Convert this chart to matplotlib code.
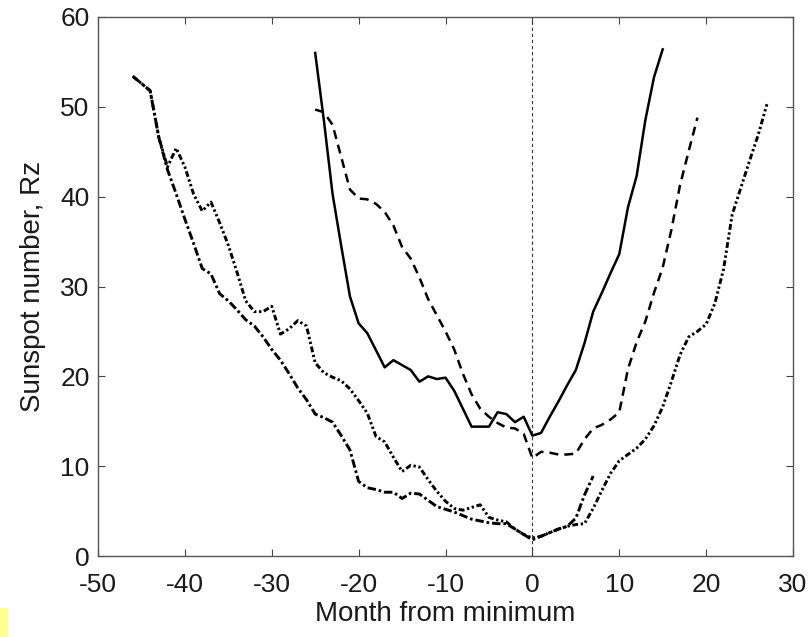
import matplotlib
matplotlib.use("Agg")
import matplotlib.pyplot as plt
import numpy as np
from matplotlib.patches import Rectangle

# ---- data ----
solid_x = list(range(-25, 16))
solid_y = [56.0, 48.5, 40.3, 34.5, 28.9, 25.9, 24.8, 22.9, 21.0, 21.8, 21.25, 20.7, 19.4, 20.0,
           19.7, 19.85, 18.4, 16.4, 14.4, 14.4, 14.4, 16.0, 15.8, 14.9, 15.5, 13.4, 13.7, 15.5,
           17.2, 19.0, 20.7, 23.7, 27.2, 29.3, 31.5, 33.6, 38.8, 42.3, 48.5, 53.3, 56.4]

dashed_x = list(range(-25, 20))
dashed_y = [49.7, 49.4, 48.0, 44.4, 40.8, 39.8, 39.7, 39.2, 38.3, 36.8, 34.4, 33.1, 31.0, 28.6,
            26.8, 25.0, 23.0, 20.3, 18.0, 16.4, 15.5, 14.8, 14.3, 14.2, 13.6, 10.9, 11.6, 11.5,
            11.3, 11.3, 11.4, 13.0, 14.2, 14.6, 15.2, 16.0, 20.8, 23.8, 26.1, 29.3, 32.1, 36.3,
            41.3, 45.1, 48.8]

dashdot_x = list(range(-46, 8))
dashdot_y = [53.4, 52.6, 51.8, 46.6, 43.0, 40.3, 37.5, 34.8, 32.0, 31.4, 29.2, 28.4, 27.4, 26.3,
             25.6, 24.4, 23.0, 21.8, 20.3, 18.7, 17.4, 15.8, 15.4, 14.9, 13.4, 11.8, 8.3, 7.6,
             7.4, 7.1, 7.1, 6.4, 7.0, 6.9, 6.2, 5.5, 5.2, 4.9, 4.5, 4.1, 3.9, 3.7, 3.6, 3.6,
             3.0, 2.4, 1.8, 2.2, 2.6, 3.0, 3.3, 4.2, 6.8, 8.9]

dashdotdot_x = list(range(-46, 28))
dashdotdot_y = [53.4, 52.6, 51.8, 46.6, 43.3, 45.4, 43.3, 40.3, 38.4, 39.4, 37.1, 34.6, 31.6, 28.4,
                27.2, 27.2, 27.8, 24.7, 25.3, 26.2, 25.6, 21.5, 20.4, 19.9, 19.5, 18.6, 17.3, 15.9,
                13.3, 12.7, 11.0, 9.4, 10.1, 9.9, 8.5, 7.2, 6.1, 5.3, 5.1, 5.4, 5.7, 4.3, 4.0, 3.8,
                3.0, 2.4, 2.0, 2.2, 2.6, 3.0, 3.3, 3.5, 3.6, 5.3, 7.3, 9.2, 10.6, 11.3, 12.0, 13.0,
                14.5, 16.6, 19.4, 22.4, 24.4, 25.0, 25.8, 28.1, 31.9, 38.0, 41.0, 44.0, 46.9, 50.3]

xticks = [-50, -40, -30, -20, -10, 0, 10, 20, 30]
yticks = [0, 10, 20, 30, 40, 50, 60]

plt.rcParams['font.family'] = ['Liberation Sans', 'DejaVu Sans']
plt.rcParams['axes.unicode_minus'] = False

W, H = 809, 637
fig = plt.figure(figsize=(W / 100, H / 100), dpi=100)
left, right, top, bottom = 98, 793, 17, 556
ax = fig.add_axes([left / W, 1 - bottom / H, (right - left) / W, (bottom - top) / H])

ax.plot(solid_x, solid_y, color='black', lw=1.8, linestyle='-')
ax.plot(dashed_x, dashed_y, color='black', lw=1.8, linestyle=(0, (3.6, 2.4)))
ax.plot(dashdot_x, dashdot_y, color='black', lw=2.1, linestyle=(0, (2.9, 1.0, 0.9, 1.0)))
ax.plot(dashdotdot_x, dashdotdot_y, color='black', lw=2.1,
        linestyle=(0, (2.0, 0.9, 0.8, 0.9, 0.8, 0.9)))

ax.axvline(0, color='#333333', lw=0.8, linestyle=(0, (3, 2.5)))

ax.set_xlim(-50, 30)
ax.set_ylim(0, 60)
ax.set_xticks(xticks)
ax.set_yticks(yticks)
ax.tick_params(direction='in', length=5, width=0.8, color='#444444', labelsize=19,
               top=True, right=True, labelcolor='#1a1a1a')
ax.tick_params(axis='x', pad=12)
ax.tick_params(axis='y', pad=6)
for s in ax.spines.values():
    s.set_color('#555555')
    s.set_linewidth(1.0)

ax.set_xlabel('Month from minimum', fontsize=20, color='#1a1a1a', labelpad=3)
ax.set_ylabel('Sunspot number, Rz', fontsize=20, color='#1a1a1a', labelpad=10)

fig.patches.append(Rectangle((0, 0), 8 / W, 29 / H, transform=fig.transFigure,
                             facecolor='#ffff8c', edgecolor='none'))

fig.savefig('out.png', dpi=100)
